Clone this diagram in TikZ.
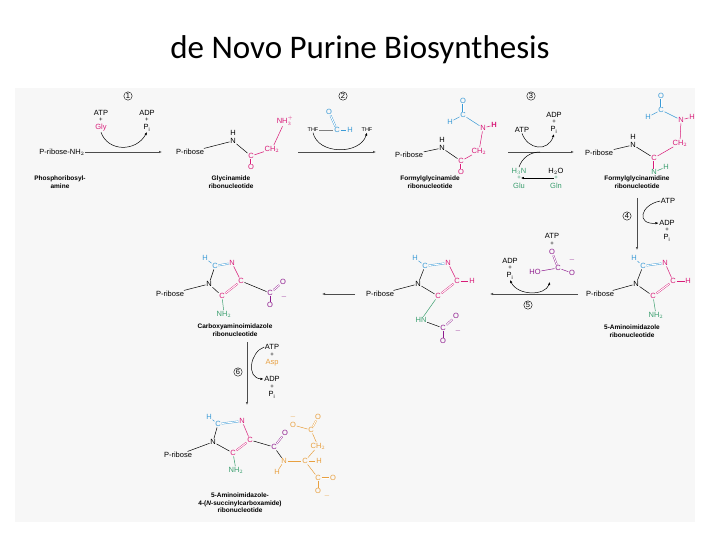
\documentclass[tikz,border=0pt]{standalone}
\usepackage{fontspec}
\setmainfont{Liberation Sans}
\newfontfamily\titlefont{Carlito}
\usetikzlibrary{arrows.meta}
\definecolor{mg}{HTML}{D81B78}
\definecolor{bl}{HTML}{3A9AD6}
\definecolor{gr}{HTML}{3A9E6E}
\definecolor{pu}{HTML}{8E1B8E}
\definecolor{og}{HTML}{E8A040}
\tikzset{
 a/.style={inner sep=0.6pt,font=\fontsize{7.5}{8}\selectfont},
 pl/.style={inner sep=0pt,font=\fontsize{6}{6}\selectfont},
 lbl/.style={inner sep=0pt,align=center,font=\fontsize{6.5}{7.5}\selectfont\bfseries},
 num/.style={circle,draw,inner sep=0.6pt,font=\fontsize{7.5}{8}\selectfont},
 rx/.style={-{Latex[length=3pt,width=2.5pt]},gray!60!black,line width=0.6pt},
 cv/.style={-{Latex[length=3pt,width=2.5pt]},black,line width=0.5pt},
 bd/.style={line width=0.5pt},
 db/.style={line width=0.4pt,double,double distance=1pt},
}
\begin{document}
\begin{tikzpicture}[x=1pt,y=-1pt]
\useasboundingbox (0,0) rectangle (720,540);
\fill[white] (0,0) rectangle (720,540);
\fill[gray!6] (15,88) rectangle (695,522);
\node[font=\titlefont\fontsize{33}{36}\selectfont] (title) at (360,50) {de Novo Purine Biosynthesis};
% ---------- molecule 1
\node[a] (p1) at (62,152) {P-ribose-NH$_2$};
\node[lbl] (l1) at (60,182) {Phosphoribosyl-\\amine};
% step 1
\node[num] (n1) at (128,96) {1};
\coordinate (s1a) at (85,152); \coordinate (s1b) at (162,152);
\draw[rx] (s1a) -- (s1b);
\node[a] (atp1) at (101,113) {ATP};
\node[pl] (pl1) at (101,120) {+};
\node[a,mg] (gly) at (101,128) {Gly};
\node[a] (adp1) at (147,113) {ADP};
\node[pl] (pl1b) at (147,120) {+};
\node[a] (pi1) at (147,128) {P$_\mathrm{i}$};
\draw[cv] (gly.south) .. controls (108,152) and (136,152) .. (pi1.south);
% ---------- molecule 2
\node[a] (r2) at (190,152) {P-ribose};
\node[a] (h2) at (233,133) {H};
\node[a] (n2) at (233,141) {N};
\node[a,mg] (c2) at (251,156) {C};
\node[a,mg] (o2) at (251,167) {O};
\node[a,mg] (ch2) at (272,149) {CH$_2$};
\node[a,mg] (nh3) at (285,121) {NH$_3^+$};
\draw[bd] (r2) -- (n2); \draw[bd] (n2) -- (c2); \draw[bd,mg] (c2) -- (ch2); \draw[bd,mg] (ch2) -- (nh3);
\draw[db,mg] (c2) -- (o2);
\node[lbl] (l2) at (231,182) {Glycinamide\\ribonucleotide};
% step 2
\node[num] (n2c) at (343,96) {2};
\coordinate (s2a) at (298,152); \coordinate (s2b) at (376,152);
\draw[rx] (s2a) -- (s2b);
\node[a,font=\fontsize{5.5}{6}\selectfont] (thf1) at (313,130) {THF};
\node[a,bl] (fo) at (329,112) {O};
\node[a,bl] (fc) at (337,130) {C};
\node[a,bl] (fh) at (350,130) {H};
\draw[db,bl] (fo) -- (fc); \draw[bd,bl] (fc) -- (fh); \draw[bd,gray] (thf1) -- (fc);
\node[a,font=\fontsize{5.5}{6}\selectfont] (thf2) at (367,130) {THF};
\draw[cv] (thf1.south) .. controls (318,155) and (360,155) .. (thf2.south);
% ---------- molecule 3
\node[a] (r3) at (409,155) {P-ribose};
\node[a] (h3) at (442,140) {H};
\node[a] (n3) at (442,148) {N};
\node[a,mg] (c3) at (461,161) {C};
\node[a,mg] (o3) at (461,172) {O};
\node[a,mg] (ch3) at (479,151) {CH$_2$};
\node[a,mg] (nn3) at (483,128) {N};
\node[a,mg,font=\fontsize{7.5}{8}\selectfont\bfseries] (hn3) at (494,125) {H};
\node[a,bl] (fc3) at (463,115) {C};
\node[a,bl] (fh3) at (450,122) {H};
\node[a,bl] (fo3) at (463,101) {O};
\draw[bd] (r3) -- (n3); \draw[bd] (n3) -- (c3); \draw[bd,mg] (c3) -- (ch3); \draw[bd,mg] (ch3) -- (nn3);
\draw[bd,mg] (nn3) -- (hn3); \draw[db,mg] (c3) -- (o3);
\draw[bd,bl] (fc3) -- (nn3); \draw[bd,bl] (fc3) -- (fh3); \draw[db,bl] (fc3) -- (fo3);
\node[lbl] (l3) at (430,182) {Formylglycinamide\\ribonucleotide};
% step 3
\node[num] (n3c) at (531,96) {3};
\coordinate (s3a) at (508,152); \coordinate (s3b) at (574,152);
\draw[rx] (s3a) -- (s3b);
\node[a] (atp3) at (522,130) {ATP};
\node[a] (adp3) at (554,115) {ADP};
\node[pl] (pl3) at (554,122) {+};
\node[a] (pi3) at (554,130) {P$_\mathrm{i}$};
\draw[cv] (atp3.south) .. controls (528,150) and (548,152) .. (pi3.south);
\node[a,gr] (h3n) at (519,171) {H$_3$N};
\node[pl,gr] (pl3c) at (519,178) {+};
\node[a,gr] (glu) at (519,186) {Glu};
\node[a] (h2o) at (556,171) {H$_2$O};
\node[pl,gr] (pl3d) at (556,178) {+};
\node[a,gr] (gln) at (556,186) {Gln};
\draw[cv] (pl3d) -- (pl3c);
\draw[line width=0.5pt] (h3n.north) .. controls (522,158) and (530,152) .. (540,152);
% ---------- molecule 4
\node[a] (r4) at (599,153) {P-ribose};
\node[a] (h4) at (633,137) {H};
\node[a] (n4) at (633,145) {N};
\node[a,mg] (c4) at (654,158) {C};
\node[a,gr] (nn4) at (654,172) {N};
\node[a,gr] (hh4) at (666,167) {H};
\node[a,mg] (ch4) at (680,143) {CH$_2$};
\node[a,mg] (nt4) at (681,120) {N};
\node[a,mg] (ht4) at (692,117) {H};
\node[a,bl] (fc4) at (661,110) {C};
\node[a,bl] (fh4) at (648,117) {H};
\node[a,bl] (fo4) at (661,96) {O};
\draw[bd] (r4) -- (n4); \draw[bd] (n4) -- (c4); \draw[bd,mg] (c4) -- (ch4); \draw[bd,mg] (ch4) -- (nt4);
\draw[bd,mg] (nt4) -- (ht4); \draw[db,mg] (c4) -- (nn4); \draw[bd,gr] (nn4) -- (hh4);
\draw[bd,bl] (fc4) -- (nt4); \draw[bd,bl] (fc4) -- (fh4); \draw[db,bl] (fc4) -- (fo4);
\node[lbl] (l4) at (637,182) {Formylglycinamidine\\ribonucleotide};
% step 4
\coordinate (s4a) at (637,198); \coordinate (s4b) at (637,250);
\draw[rx] (s4a) -- (s4b);
\node[num] (n4c) at (627,216) {4};
\node[a] (atp4) at (668,201) {ATP};
\node[a] (adp4) at (667,223) {ADP};
\node[pl] (pl4) at (667,230) {+};
\node[a] (pi4) at (667,238) {P$_\mathrm{i}$};
\draw[cv] (atp4.west) .. controls (640,205) and (636,225) .. (adp4.west);
% ---------- molecule 5
\node[a] (r5) at (600,294) {P-ribose};
\node[a] (n5) at (636,284) {N};
\node[a,bl] (c5a) at (643,266) {C};
\node[a,bl] (h5a) at (634,258) {H};
\node[a,mg] (n5b) at (665,263) {N};
\node[a,mg] (c5b) at (673,281) {C};
\node[a,mg] (h5b) at (688,281) {H};
\node[a,mg] (c5c) at (653,296) {C};
\node[a,gr] (nh5) at (656,315) {NH$_2$};
\draw[bd] (r5) -- (n5); \draw[bd] (n5) -- (c5a); \draw[bd,bl] (c5a) -- (h5a); \draw[db,bl] (c5a) -- (n5b);
\draw[bd,mg] (n5b) -- (c5b); \draw[bd,mg] (c5b) -- (h5b); \draw[db,mg] (c5b) -- (c5c); \draw[bd] (c5c) -- (n5); \draw[bd,gr] (c5c) -- (nh5);
\node[lbl] (l5) at (632,331) {5-Aminoimidazole\\ribonucleotide};
% step 5
\coordinate (s5a) at (578,294); \coordinate (s5b) at (490,294);
\draw[rx] (s5a) -- (s5b);
\node[num] (n5c) at (528,305) {5};
\node[a] (adp5) at (510,261) {ADP};
\node[pl] (pl5) at (510,268) {+};
\node[a] (pi5) at (510,276) {P$_\mathrm{i}$};
\node[a] (atp5) at (552,236) {ATP};
\node[pl] (pl5b) at (552,244) {+};
\node[a,pu] (bo1) at (552,252) {O};
\node[a,pu] (bc) at (558,268) {C};
\node[a,pu] (bo2) at (572,273) {O};
\node[a,pu] (bho) at (535,272) {HO};
\node[a,pu] (bm) at (572,260) {$-$};
\draw[db,pu] (bc) -- (bo1); \draw[bd,pu] (bc) -- (bo2); \draw[bd,pu] (bho) -- (bc);
\coordinate (c5s) at (550,282);
\draw[{Latex[length=3pt,width=2.5pt]}-{Latex[length=3pt,width=2.5pt]},line width=0.5pt] (c5s) .. controls (545,296) and (518,296) .. (pi5.south);
% ---------- molecule 6
\node[a] (r6) at (380,294) {P-ribose};
\node[a] (n6) at (418,284) {N};
\node[a,bl] (c6a) at (425,266) {C};
\node[a,bl] (h6a) at (415,258) {H};
\node[a,mg] (n6b) at (448,263) {N};
\node[a,mg] (c6b) at (457,281) {C};
\node[a,mg] (h6b) at (472,281) {H};
\node[a,mg] (c6c) at (438,296) {C};
\node[a,gr] (hn6) at (421,320) {HN};
\node[a,pu] (cc6) at (443,328) {C};
\node[a,pu] (o6a) at (456,316) {O};
\node[a,pu] (o6b) at (443,341) {O};
\node[a,pu] (m6) at (458,331) {$-$};
\draw[bd] (r6) -- (n6); \draw[bd] (n6) -- (c6a); \draw[bd,bl] (c6a) -- (h6a); \draw[db,bl] (c6a) -- (n6b);
\draw[bd,mg] (n6b) -- (c6b); \draw[bd,mg] (c6b) -- (h6b); \draw[db,mg] (c6b) -- (c6c); \draw[bd] (c6c) -- (n6); \draw[bd,gr] (c6c) -- (hn6);
\draw[bd] (hn6) -- (cc6); \draw[db,pu] (cc6) -- (o6a); \draw[bd,pu] (cc6) -- (o6b);
% arrow 6 -> 7
\coordinate (s6a) at (355,294); \coordinate (s6b) at (322,294);
\draw[rx] (s6a) -- (s6b);
% ---------- molecule 7
\node[a] (r7) at (170,294) {P-ribose};
\node[a] (n7) at (209,284) {N};
\node[a,bl] (c7a) at (215,266) {C};
\node[a,bl] (h7a) at (205,258) {H};
\node[a,mg] (n7b) at (232,263) {N};
\node[a,mg] (c7b) at (241,281) {C};
\node[a,mg] (c7c) at (222,296) {C};
\node[a,gr] (nh7) at (224,314) {NH$_2$};
\node[a,pu] (cc7) at (270,293) {C};
\node[a,pu] (o7a) at (283,282) {O};
\node[a,pu] (o7b) at (270,305) {O};
\node[a,pu] (m7) at (284,297) {$-$};
\draw[bd] (r7) -- (n7); \draw[bd] (n7) -- (c7a); \draw[bd,bl] (c7a) -- (h7a); \draw[db,bl] (c7a) -- (n7b);
\draw[bd,mg] (n7b) -- (c7b); \draw[db,mg] (c7b) -- (c7c); \draw[bd] (c7c) -- (n7); \draw[bd,gr] (c7c) -- (nh7);
\draw[bd] (c7b) -- (cc7); \draw[db,pu] (cc7) -- (o7a); \draw[bd,pu] (cc7) -- (o7b);
\node[lbl] (l7) at (235,330) {Carboxyaminoimidazole\\ribonucleotide};
% step 6
\coordinate (s7a) at (247,342); \coordinate (s7b) at (247,405);
\draw[rx] (s7a) -- (s7b);
\node[num] (n6c) at (238,372) {6};
\node[a] (atp6) at (272,347) {ATP};
\node[pl] (pl6) at (272,355) {+};
\node[a,og] (asp) at (272,363) {Asp};
\node[a] (adp6) at (272,379) {ADP};
\node[pl] (pl6b) at (272,387) {+};
\node[a] (pi6) at (272,395) {P$_\mathrm{i}$};
\draw[cv] (atp6.west) .. controls (250,352) and (246,378) .. (adp6.west);
% ---------- molecule 8
\node[a] (r8) at (178,455) {P-ribose};
\node[a] (n8) at (213,442) {N};
\node[a,bl] (c8a) at (218,424) {C};
\node[a,bl] (h8a) at (209,417) {H};
\node[a,mg] (n8b) at (242,421) {N};
\node[a,mg] (c8b) at (250,440) {C};
\node[a,mg] (c8c) at (233,453) {C};
\node[a,gr] (nh8) at (236,470) {NH$_2$};
\node[a,pu] (cc8) at (274,447) {C};
\node[a,pu] (o8) at (285,433) {O};
\node[a,og] (nn8) at (284,461) {N};
\node[a,og] (hn8) at (277,472) {H};
\node[a,og] (ca8) at (305,461) {C};
\node[a,og] (ha8) at (319,461) {H};
\node[a,og] (ch8) at (318,446) {CH$_2$};
\node[a,og] (cu8) at (311,430) {C};
\node[a,og] (ou1) at (293,425) {O};
\node[a,og] (ou2) at (318,417) {O};
\node[a,og] (mu) at (293,417) {$-$};
\node[a,og] (cd8) at (318,478) {C};
\node[a,og] (od1) at (333,478) {O};
\node[a,og] (od2) at (318,491) {O};
\node[a,og] (md) at (327,496) {$-$};
\draw[bd] (r8) -- (n8); \draw[bd] (n8) -- (c8a); \draw[bd,bl] (c8a) -- (h8a); \draw[db,bl] (c8a) -- (n8b);
\draw[bd,mg] (n8b) -- (c8b); \draw[db,mg] (c8b) -- (c8c); \draw[bd] (c8c) -- (n8); \draw[bd,gr] (c8c) -- (nh8);
\draw[bd] (c8b) -- (cc8); \draw[db,pu] (cc8) -- (o8); \draw[bd] (cc8) -- (nn8);
\draw[bd,og] (nn8) -- (hn8); \draw[bd,og] (nn8) -- (ca8); \draw[bd,og] (ca8) -- (ha8); \draw[bd,og] (ca8) -- (ch8);
\draw[bd,og] (ch8) -- (cu8); \draw[bd,og] (cu8) -- (ou1); \draw[db,og] (cu8) -- (ou2);
\draw[bd,og] (ca8) -- (cd8); \draw[db,og] (cd8) -- (od1); \draw[bd,og] (cd8) -- (od2);
\node[lbl] (l8) at (240,503) {5-Aminoimidazole-\\4-(\textit{N}-succinylcarboxamide)\\ribonucleotide};
\end{tikzpicture}
\end{document}
